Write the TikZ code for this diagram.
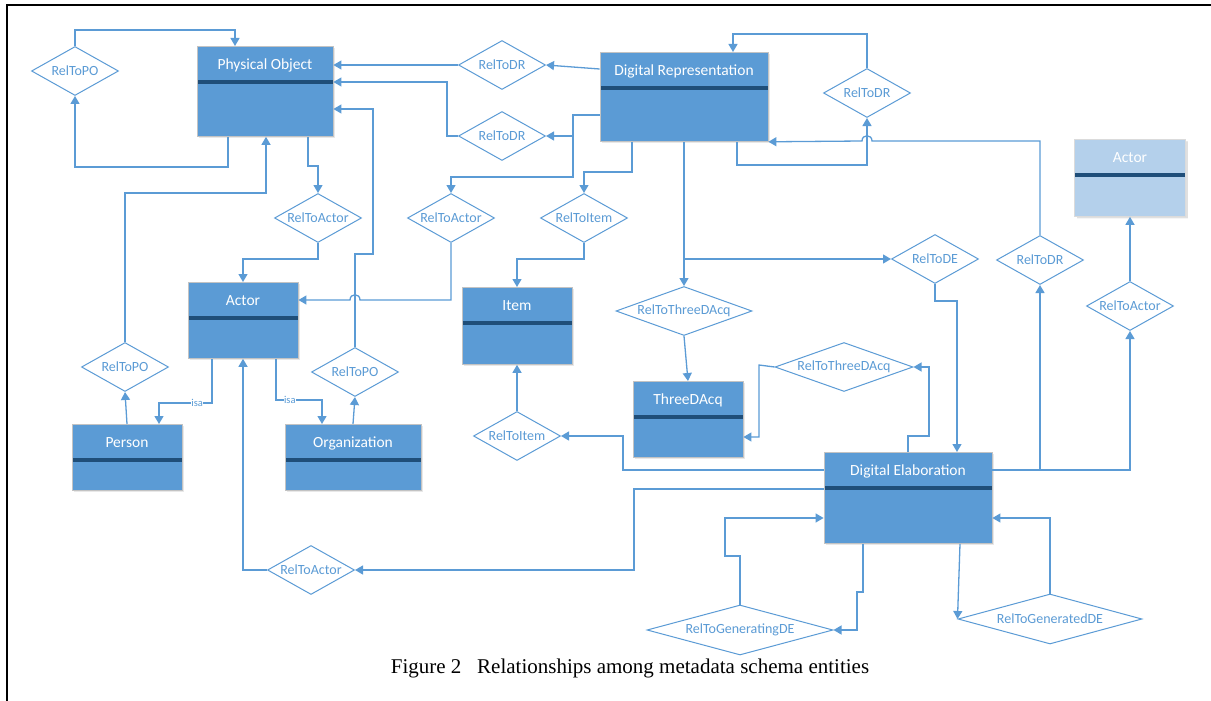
\documentclass[tikz,border=0pt]{standalone}
\usepackage{fontspec}
\setmainfont{Liberation Serif}
\newfontfamily\calibri{Carlito}
\usetikzlibrary{shapes.geometric,arrows.meta,shadows}
\definecolor{Blue}{RGB}{91,155,213}
\definecolor{DarkBar}{RGB}{31,78,121}
\definecolor{Faded}{RGB}{180,208,235}
\definecolor{Edge}{RGB}{195,195,195}
\begin{document}
\begin{tikzpicture}[x=1pt,y=-1pt]
	\tikzstyle{Entity} = [rectangle, anchor=north, draw=Edge, line width=0.8pt, fill=Blue, text=white, inner sep=0pt,
		font=\calibri\fontsize{15.5}{17}\selectfont, text height=23pt,
		drop shadow={opacity=0.18, shadow xshift=2pt, shadow yshift=-2pt},
		path picture={\fill[DarkBar] ([yshift=-34pt]path picture bounding box.north west) rectangle ([yshift=-38pt]path picture bounding box.north east);}]
	\tikzstyle{Rel} = [diamond, aspect=1.78, draw=Blue, line width=1pt, fill=white, text=Blue, inner sep=0pt,
		font=\calibri\fontsize{14}{15}\selectfont, minimum width=87, minimum height=49]
	\tikzstyle{Link} = [draw=Blue, line width=1.3pt, -{Triangle[length=8pt,width=9pt]}]
	\tikzstyle{Isa} = [fill=white, text=Blue, inner sep=0.5pt, font=\calibri\fontsize{10.5}{11}\selectfont]
	\useasboundingbox (0,0) rectangle (1211,701);
	\draw [line width=2.2pt] (7,701) -- (7,5) -- (1211,5);
	% entities
	\node (po) at (265,46) [Entity, minimum width=136, text depth=67pt] {Physical Object};
	\node (dr) at (684,52) [Entity, minimum width=168, text depth=66pt] {Digital Representation};
	\node (ac) at (243,282) [Entity, minimum width=110, text depth=53pt] {Actor};
	\node (it) at (517,287) [Entity, minimum width=110, text depth=54pt] {Item};
	\node (pe) at (127,424) [Entity, minimum width=110, text depth=43pt] {Person};
	\node (org) at (353,424) [Entity, minimum width=136, text depth=43pt] {Organization};
	\node (td) at (688,381) [Entity, minimum width=110, text depth=53pt] {ThreeDAcq};
	\node (de) at (908,452) [Entity, minimum width=168, text depth=68pt] {Digital Elaboration};
	\node (ac2) at (1130,139) [Entity, minimum width=111, text depth=54pt, fill=Faded, draw=Edge!60, drop shadow={opacity=0.08}] {Actor};
	% relationships
	\node (rpo1) at (75,71) [Rel] {RelToPO};
	\node (rdr1) at (502,65) [Rel] {RelToDR};
	\node (rdr2) at (502,136) [Rel] {RelToDR};
	\node (rdr3) at (867,93) [Rel] {RelToDR};
	\node (ra1) at (318,218) [Rel] {RelToActor};
	\node (ra2) at (451,218) [Rel] {RelToActor};
	\node (ri1) at (584,218) [Rel] {RelToItem};
	\node (rde) at (935,259) [Rel] {RelToDE};
	\node (rdr4) at (1040,260) [Rel] {RelToDR};
	\node (ra3) at (1130,306) [Rel] {RelToActor};
	\node (rtd1) at (684,311) [Rel, aspect=2.8, minimum width=136] {RelToThreeDAcq};
	\node (rtd2) at (844,367) [Rel, aspect=2.8, minimum width=138] {RelToThreeDAcq};
	\node (ri2) at (517,436) [Rel] {RelToItem};
	\node (rpo2) at (125,367) [Rel] {RelToPO};
	\node (rpo3) at (355,372) [Rel] {RelToPO};
	\node (ra4) at (311,570) [Rel] {RelToActor};
	\node (rgi) at (740,630) [Rel, aspect=3.7, minimum width=186, minimum height=50] {RelToGeneratingDE};
	\node (rge) at (1050,619) [Rel, aspect=3.7, minimum width=184, minimum height=50] {RelToGeneratedDE};
	% connectors
	\draw [Link] (po.south -| 228,0) -- (228,167) -| (rpo1.south);
	\draw [Link] (rpo1.north) |- (235,30) -- (po.north -| 235,0);
	\draw [Link] (dr.west |- 0,69) -- (rdr1.east);
	\draw [Link] (rdr1.west) -- (po.east |- 0,65);
	\draw [Link] (dr.west |- 0,115) -| (573,136) -- (rdr2.east);
	\draw [Link] (dr.west |- 0,115) -| (573,177) -| (ra2.north);
	\draw [Link] (rdr2.west) -| (447,82) -- (po.east |- 0,82);
	\draw [Link] (dr.south -| 632,0) |- (584,172) -- (ri1.north);
	\draw [Link] (ri1.south) |- (517,259) -- (it.north);
	\draw [Link] (dr.south) -- (rtd1.north);
	\draw [Link] (dr.south |- 0,259) -- (rde.west);
	\draw [Link] (rtd1.south) -- (td.north);
	\draw [Link] (rde.south) |- (957,301) -- (de.north -| 957,0);
	\draw [Link] (po.south -| 308,0) |- (318,166) -- (ra1.north);
	\draw [Link] (ra1.south) |- (243,259) -- (ac.north);
	\draw [Link] (ra2.south) |- (360,300) .. controls (360,293) and (350,293) .. (350,300) -- (ac.east |- 0,300);
	\draw [Link] (rpo3.north) |- (373,254) |- (po.east |- 0,109);
	\draw [Link] (org.north) -- (rpo3.south);
	\draw [Link] (pe.north) -- (rpo2.south);
	\draw [Link] (rpo2.north) |- (266,193) -- (po.south -| 266,0);
	\draw [Link] (ac.south -| 212,0) |- (159,403) node [pos=0.64, Isa] {isa} -- (pe.north -| 159,0);
	\draw [Link] (ac.south -| 276,0) |- (322,400) node [pos=0.65, Isa] {isa} -- (org.north -| 322,0);
	\draw [Link] (de.west |- 0,489) -| (634,570) -- (ra4.east);
	\draw [Link] (ra4.west) -| (ac.south);
	\draw [Link] (de.west |- 0,470) -| (623,436) -- (ri2.east);
	\draw [Link] (ri2.north) -- (it.south);
	\draw [Link] (de.north -| 908,0) |- (929,436) |- (rtd2.east);
	\draw [Link] (rtd2.west) -- (759,365) |- (td.east |- 0,437);
	\draw [Link] (de.east |- 0,470) -| (rdr4.south);
	\draw [Link] (de.east |- 0,470) -| (ra3.south);
	\draw [Link] (ra3.north) -- (ac2.south);
	\draw [Link] (rdr4.north) |- (872,141) .. controls (872,134) and (862,134) .. (862,141) -- (dr.south east);
	\draw [Link] (dr.south -| 737,0) |- (867,165) -- (rdr3.south);
	\draw [Link] (rdr3.north) |- (733,34) -- (dr.north -| 733,0);
	\draw [Link] (de.south -| 863,0) -- (863,592) -| (857,630) -- (rgi.east);
	\draw [Link] (rgi.north) |- (725,556) |- (de.west |- 0,518);
	\draw [Link] (de.south -| 960,0) -- (rge.west);
	\draw [Link] (rge.north) |- (de.east |- 0,518);
	% caption
	\node (cap) at (630,668) [font=\fontsize{21}{24}\selectfont] {Figure 2\hspace{0.75em}Relationships among metadata schema entities};
\end{tikzpicture}
\end{document}
